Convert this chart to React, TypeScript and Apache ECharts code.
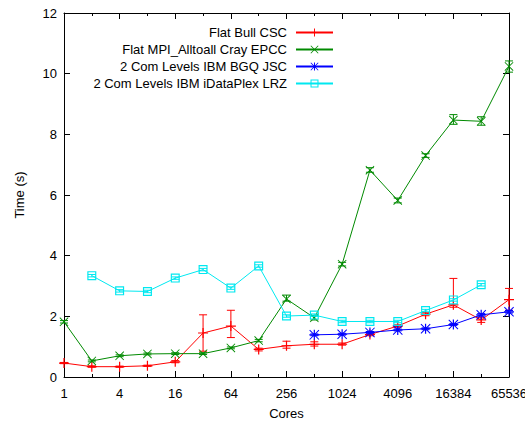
import React, { useEffect, useRef } from "react";
import * as echarts from "echarts";

const cores = ["1", "2", "4", "8", "16", "32", "64", "128", "256", "512", "1024", "2048", "4096", "8192", "16384", "32768", "65536"];

const seriesNames = [
  "Flat Bull CSC",
  "Flat MPI_Alltoall Cray EPCC",
  "2 Com Levels IBM BGQ JSC",
  "2 Com Levels IBM iDataPlex LRZ",
];

const bullValue = [0.46, 0.34, 0.34, 0.37, 0.5, 1.45, 1.68, 0.91, 1.03, 1.08, 1.08, 1.4, 1.68, 2.07, 2.38, 1.88, 2.55];
const bullLow = [0.44, 0.32, 0.32, 0.35, 0.47, 0.85, 1.3, 0.86, 0.95, 1.02, 1.05, 1.36, 1.64, 2.02, 2.3, 1.8, 2.2];
const bullHigh = [0.48, 0.37, 0.36, 0.39, 0.54, 2.05, 2.2, 0.95, 1.18, 1.16, 1.12, 1.45, 1.72, 2.12, 3.25, 1.97, 2.92];

const crayValue = [1.82, 0.53, 0.7, 0.76, 0.77, 0.77, 0.96, 1.2, 2.57, 1.95, 3.72, 6.82, 5.82, 7.3, 8.47, 8.43, 10.24];
const crayLow = [1.78, 0.5, 0.67, 0.73, 0.74, 0.74, 0.93, 1.16, 2.5, 1.88, 3.66, 6.75, 5.74, 7.24, 8.33, 8.3, 10.05];
const crayHigh = [1.86, 0.56, 0.73, 0.79, 0.8, 0.8, 0.99, 1.24, 2.7, 2.03, 3.78, 6.9, 5.9, 7.36, 8.65, 8.58, 10.42];

const bgqValue = [null, null, null, null, null, null, null, null, null, 1.39, 1.41, 1.47, 1.55, 1.59, 1.73, 2.05, 2.15];
const bgqLow = [null, null, null, null, null, null, null, null, null, 1.36, 1.38, 1.44, 1.52, 1.56, 1.7, 2.01, 2.11];
const bgqHigh = [null, null, null, null, null, null, null, null, null, 1.42, 1.44, 1.5, 1.58, 1.62, 1.76, 2.09, 2.19];

const lrzValue = [null, 3.34, 2.84, 2.82, 3.26, 3.54, 2.93, 3.66, 2.01, 2.04, 1.83, 1.83, 1.83, 2.19, 2.54, 3.04, null];
const lrzLow = [null, 3.3, 2.8, 2.78, 3.22, 3.5, 2.89, 3.62, 1.97, 2.0, 1.79, 1.79, 1.79, 2.15, 2.5, 3.0, null];
const lrzHigh = [null, 3.38, 2.88, 2.86, 3.3, 3.58, 2.97, 3.7, 2.05, 2.08, 1.87, 1.87, 1.87, 2.23, 2.58, 3.08, null];

const colors = ["#ff0000", "#008a00", "#0000ff", "#00e8f0"];

const PLUS = "path://M44,0H56V44H100V56H56V100H44V56H0V44H44Z";
const CROSS = "path://M0,7L7,0L100,93L93,100Z M93,0L100,7L7,100L0,93Z";
const STAR = "path://M0,7L7,0L100,93L93,100Z M93,0L100,7L7,100L0,93Z M44,0H56V44H100V56H56V100H44V56H0V44H44Z";
const SQUARE = "path://M0,0H100V100H0Z M13,13V87H87V13Z";

const FONT = "Liberation Sans, Arial, sans-serif";

export default function App() {
  const ref = useRef<HTMLDivElement>(null);

  useEffect(() => {
    if (!ref.current) return;
    const chart = echarts.init(ref.current, null, { renderer: "svg" });

    const values = [bullValue, crayValue, bgqValue, lrzValue];
    const lows = [bullLow, crayLow, bgqLow, lrzLow];
    const highs = [bullHigh, crayHigh, bgqHigh, lrzHigh];
    const symbols = [PLUS, CROSS, STAR, SQUARE];
    const sizes = [10, 9, 10, 9];

    const lineSeries = values.map((v, k) => ({
      type: "line",
      name: seriesNames[k],
      data: v.map((y) => (y == null ? "-" : y)),
      symbol: symbols[k],
      symbolSize: sizes[k],
      showSymbol: true,
      connectNulls: false,
      color: colors[k],
      lineStyle: { width: 1, color: colors[k] },
      itemStyle: { color: colors[k] },
      z: 3 + k,
    }));

    const errSeries = values.map((v, k) => ({
      type: "custom",
      name: "err" + k,
      data: v
        .map((y, i) => (y == null ? null : [i, lows[k][i], highs[k][i]]))
        .filter((d) => d != null),
      encode: { x: 0, y: [1, 2] },
      silent: true,
      z: 3 + k,
      renderItem: (params: any, api: any) => {
        const x = api.value(0);
        const lo = api.coord([x, api.value(1)]);
        const hi = api.coord([x, api.value(2)]);
        const w = 4;
        const style = { stroke: colors[k], lineWidth: 1 };
        return {
          type: "group",
          children: [
            { type: "line", shape: { x1: lo[0], y1: lo[1], x2: hi[0], y2: hi[1] }, style },
            { type: "line", shape: { x1: lo[0] - w, y1: lo[1], x2: lo[0] + w, y2: lo[1] }, style },
            { type: "line", shape: { x1: hi[0] - w, y1: hi[1], x2: hi[0] + w, y2: hi[1] }, style },
          ],
        };
      },
    }));

    const baseX = {
      type: "category",
      data: cores,
      boundaryGap: false,
      splitLine: { show: false },
    };

    chart.setOption({
      animation: false,
      backgroundColor: "#ffffff",
      textStyle: { fontFamily: FONT },
      grid: { left: 64, right: 16, top: 13, bottom: 46, outerBoundsMode: "none", containLabel: false },
      legend: {
        data: seriesNames,
        orient: "vertical",
        align: "right",
        right: 186,
        top: 21,
        itemWidth: 37,
        itemHeight: 10,
        itemGap: 4,
        textStyle: { fontSize: 13, color: "#000", fontFamily: FONT, padding: [0, 4, 0, 0] },
        inactiveColor: "#ccc",
      },
      xAxis: [
        {
          ...baseX,
          position: "bottom",
          name: "Cores",
          nameLocation: "middle",
          nameGap: 30,
          nameTextStyle: { fontSize: 13, color: "#000", fontFamily: FONT },
          axisLine: { show: true, lineStyle: { color: "#000", width: 1 } },
          axisTick: { show: true, inside: true, length: 6, interval: (i: number) => i % 2 === 0, lineStyle: { color: "#000" } },
          axisLabel: { interval: 1, margin: 10, fontSize: 13, color: "#000", fontFamily: FONT },
        },
        {
          ...baseX,
          position: "bottom",
          axisLine: { show: false },
          axisTick: { show: true, inside: true, length: 3, interval: 0, lineStyle: { color: "#000" } },
          axisLabel: { show: false },
        },
        {
          ...baseX,
          position: "top",
          axisLine: { show: true, lineStyle: { color: "#000", width: 1 } },
          axisTick: { show: true, inside: true, length: 6, interval: (i: number) => i % 2 === 0, lineStyle: { color: "#000" } },
          axisLabel: { show: false },
        },
        {
          ...baseX,
          position: "top",
          axisLine: { show: false },
          axisTick: { show: true, inside: true, length: 3, interval: 0, lineStyle: { color: "#000" } },
          axisLabel: { show: false },
        },
      ],
      yAxis: [
        {
          type: "value",
          position: "left",
          min: 0,
          max: 12,
          interval: 2,
          name: "Time (s)",
          nameLocation: "middle",
          nameGap: 38,
          nameTextStyle: { fontSize: 13, color: "#000", fontFamily: FONT },
          axisLine: { show: true, lineStyle: { color: "#000", width: 1 } },
          axisTick: { show: true, inside: true, length: 6, lineStyle: { color: "#000" } },
          axisLabel: { margin: 7, fontSize: 13, color: "#000", fontFamily: FONT },
          splitLine: { show: false },
        },
        {
          type: "value",
          position: "right",
          min: 0,
          max: 12,
          interval: 2,
          axisLine: { show: true, lineStyle: { color: "#000", width: 1 } },
          axisTick: { show: true, inside: true, length: 6, lineStyle: { color: "#000" } },
          axisLabel: { show: false },
          splitLine: { show: false },
        },
      ],
      series: [...errSeries, ...lineSeries],
    } as any);

    return () => chart.dispose();
  }, []);

  return (
    <div
      ref={ref}
      style={{ position: "fixed", left: 0, top: 0, width: 525, height: 423 }}
    />
  );
}
